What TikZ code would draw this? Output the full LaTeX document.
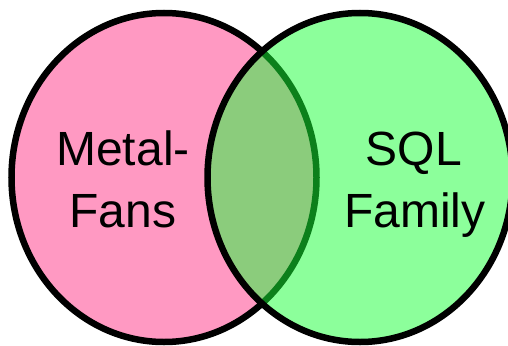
\documentclass[tikz,border=0pt]{standalone}
\usepackage{fontspec}
\setmainfont{Liberation Sans}
\definecolor{pinkfill}{RGB}{255,153,194}
\definecolor{greenfill}{RGB}{25,255,55}
\begin{document}
\begin{tikzpicture}[x=1pt,y=-1pt,
  outline/.style={line width=6.5pt, draw=black},
  lbl/.style={anchor=base, font=\fontsize{48}{58}\selectfont, inner sep=0pt, text=black}]
\useasboundingbox (0,0) rectangle (508,345);
\clip (0,0) rectangle (508,345);
\fill[pinkfill] (164,177.5) ellipse [x radius=152.5, y radius=164.5];
\draw[outline] (164,177.5) ellipse [x radius=152.5, y radius=164.5];
\fill[greenfill, fill opacity=0.5] (360,177.5) ellipse [x radius=152.5, y radius=164.5];
\draw[outline] (360,177.5) ellipse [x radius=152.5, y radius=164.5];
\node[lbl] (metal) at (123,165) {Metal-};
\node[lbl] (fans) at (123,227) {Fans};
\node[lbl] (sql) at (414,165) {SQL};
\node[lbl] (family) at (415,227) {Family};
\end{tikzpicture}
\end{document}
